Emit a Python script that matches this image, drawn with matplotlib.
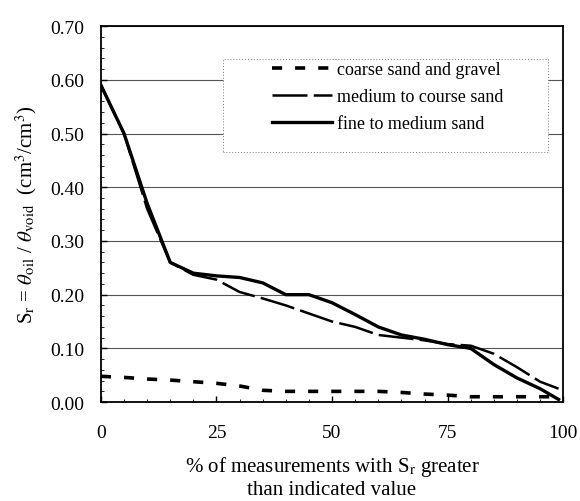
import matplotlib
matplotlib.use("Agg")
import matplotlib.pyplot as plt
from matplotlib.patches import Rectangle
from matplotlib.ticker import MultipleLocator

plt.rcParams['font.family'] = ['Liberation Serif', 'DejaVu Serif']
plt.rcParams['mathtext.fontset'] = 'stix'

x_coarse = [0, 5, 10, 15, 20, 25, 30, 35, 40, 45, 50, 55, 60, 65, 70, 75, 80, 85, 90, 95, 99]
y_coarse = [0.048, 0.046, 0.043, 0.041, 0.038, 0.035, 0.030, 0.022, 0.020, 0.020, 0.020, 0.020, 0.020, 0.018, 0.015, 0.013, 0.010, 0.010, 0.010, 0.010, 0.010]

x_medium = [0, 5, 10, 15, 20, 25, 30, 35, 40, 45, 50, 55, 60, 65, 70, 75, 80, 85, 90, 95, 99]
y_medium = [0.59, 0.50, 0.36, 0.26, 0.237, 0.228, 0.205, 0.193, 0.180, 0.165, 0.150, 0.140, 0.125, 0.120, 0.115, 0.108, 0.105, 0.090, 0.065, 0.038, 0.025]

x_fine = [0, 5, 10, 15, 20, 25, 30, 35, 40, 45, 50, 55, 60, 65, 70, 75, 80, 85, 90, 95, 99]
y_fine = [0.59, 0.50, 0.37, 0.26, 0.240, 0.235, 0.232, 0.222, 0.200, 0.200, 0.185, 0.163, 0.140, 0.125, 0.117, 0.107, 0.100, 0.070, 0.045, 0.025, 0.005]

labels = ['coarse sand and gravel', 'medium to course sand', 'fine to medium sand']

fig = plt.figure(figsize=(5.8, 5.02), dpi=100)
ax = fig.add_axes([0.174, 0.197, 0.797, 0.749])

ax.plot(x_coarse, y_coarse, color='black', lw=2.6, linestyle=(0, (2.8, 3.6)), label=labels[0], zorder=3)
ax.plot(x_medium, y_medium, color='black', lw=1.8, linestyle=(0, (14, 2.5)), label=labels[1], zorder=3)
ax.plot(x_fine, y_fine, color='black', lw=2.4, linestyle='-', label=labels[2], zorder=3)

ax.set_xlim(0, 100)
ax.set_ylim(0, 0.70)
ax.set_xticks([0, 25, 50, 75, 100])
ax.set_yticks([0.0, 0.1, 0.2, 0.3, 0.4, 0.5, 0.6, 0.7])
ax.set_yticklabels([f'{v:.2f}' for v in [0.0, 0.1, 0.2, 0.3, 0.4, 0.5, 0.6, 0.7]])
ax.xaxis.set_minor_locator(MultipleLocator(5))
ax.yaxis.set_minor_locator(MultipleLocator(0.02))
ax.tick_params(axis='both', which='major', labelsize=14, direction='in', length=4, width=1)
ax.tick_params(axis='y', which='major', pad=12)
ax.tick_params(axis='x', which='major', pad=16)
ax.tick_params(axis='both', which='minor', direction='in', length=2, width=0.6)
ax.grid(axis='y', which='major', color='#555555', lw=0.8)
for s in ax.spines.values():
    s.set_linewidth(1.3)

rect = Rectangle((0.264, 0.665), 0.704, 0.247, transform=ax.transAxes, facecolor='white',
                 edgecolor='#777777', lw=0.7, linestyle=(0, (1, 2)), zorder=2.5)
ax.add_patch(rect)
leg = ax.legend(loc='upper left', bbox_to_anchor=(0.37, 0.906), frameon=False, fontsize=13,
                handlelength=3.3, handletextpad=0.3, labelspacing=0.55, borderaxespad=0, borderpad=0)
leg.set_zorder(4)

ax.set_ylabel(r'S$_\mathrm{r}$ = $\theta_\mathrm{oil}$ / $\theta_\mathrm{void}$  (cm$^3$/cm$^3$)', fontsize=15, labelpad=8)
ax.set_xlabel('% of measurements with S$_\\mathrm{r}$ greater\nthan indicated value', fontsize=15, labelpad=9, linespacing=1.15)

fig.savefig('out.png', dpi=100)
